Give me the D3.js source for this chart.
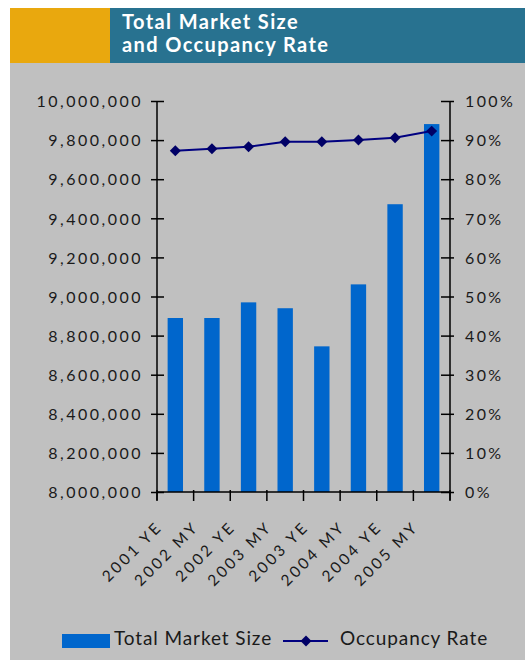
<!DOCTYPE html>
<html>
<head>
<meta charset="utf-8">
<script src="https://cdn.jsdelivr.net/npm/d3@7"></script>
<style>
  html, body { margin: 0; padding: 0; background: #ffffff; }
  svg { display: block; }
  text { font-family: Lato, "Open Sans", sans-serif; fill: #1a1a1a; }
</style>
</head>
<body>
<svg id="chart" width="525" height="660"></svg>
<script>
const categories = ["2001 YE", "2002 MY", "2002 YE", "2003 MY", "2003 YE", "2004 MY", "2004 YE", "2005 MY"];
const marketSize = [8890000, 8890000, 8970000, 8940000, 8745000, 9062000, 9472000, 9882000];
const occupancyRate = [0.873, 0.878, 0.883, 0.896, 0.896, 0.900, 0.906, 0.923];
const sizeTicks = [8000000, 8200000, 8400000, 8600000, 8800000, 9000000, 9200000, 9400000, 9600000, 9800000, 10000000];
const pctTicks = [0, 0.1, 0.2, 0.3, 0.4, 0.5, 0.6, 0.7, 0.8, 0.9, 1.0];
const titleLines = ["Total Market Size", "and Occupancy Rate"];
const legendLabels = ["Total Market Size", "Occupancy Rate"];

const svg = d3.select("#chart");

// backgrounds
svg.append("rect").attr("x", 10).attr("y", 62).attr("width", 515).attr("height", 598).attr("fill", "#c0c0c0");
svg.append("rect").attr("x", 10).attr("y", 8).attr("width", 100).attr("height", 55).attr("fill", "#e9a80e");
svg.append("rect").attr("x", 110).attr("y", 8).attr("width", 415).attr("height", 55).attr("fill", "#287290");

// title
svg.append("g").selectAll("text").data(titleLines).join("text")
  .attr("x", 122).attr("y", (d, i) => 29 + i * 23)
  .style("font-size", "20px").style("font-weight", "bold").style("letter-spacing", "1.4px")
  .style("fill", "#ffffff")
  .text(d => d);

const pLeft = 157, pRight = 450, pTop = 101, pBottom = 492;

const x = d3.scaleBand().domain(categories).range([pLeft, pRight]).paddingInner(0).paddingOuter(0);
const yL = d3.scaleLinear().domain([8000000, 10000000]).range([pBottom, pTop]);
const yR = d3.scaleLinear().domain([0, 1]).range([pBottom, pTop]);

// bars
const barW = x.bandwidth() * 0.42;
svg.append("g").selectAll("rect").data(marketSize).join("rect")
  .attr("x", (d, i) => x(categories[i]) + (x.bandwidth() - barW) / 2)
  .attr("y", d => yL(d))
  .attr("width", barW)
  .attr("height", d => yL(8000000) - yL(d))
  .attr("fill", "#0066cc");

// left axis
const axL = svg.append("g").attr("transform", `translate(${pLeft},0)`)
  .call(d3.axisLeft(yL).tickValues(sizeTicks).tickFormat(d3.format(",")).tickSize(6).tickPadding(0));
axL.select(".domain").attr("stroke", "#000").attr("stroke-width", 1.5).attr("d", `M0,${pTop}V${pBottom + 8}`);
axL.selectAll(".tick line").attr("stroke", "#000").attr("stroke-width", 1.5).attr("x1", 7).attr("x2", -6);
axL.selectAll(".tick text").attr("x", -14).attr("dy", "0.36em")
  .style("font-size", "16px").style("letter-spacing", "2.5px").style("font-family", "Lato, sans-serif").attr("fill", "#1a1a1a");

// right axis
const axR = svg.append("g").attr("transform", `translate(${pRight},0)`)
  .call(d3.axisRight(yR).tickValues(pctTicks).tickFormat(d3.format(".0%")).tickSize(6).tickPadding(0));
axR.select(".domain").attr("stroke", "#000").attr("stroke-width", 1.5).attr("d", `M0,${pTop}V${pBottom + 8}`);
axR.selectAll(".tick line").attr("stroke", "#000").attr("stroke-width", 1.5).attr("x1", -9).attr("x2", 4);
axR.selectAll(".tick text").attr("x", 15).attr("dy", "0.36em")
  .style("font-size", "16px").style("letter-spacing", "2.4px").style("font-family", "Lato, sans-serif").attr("fill", "#1a1a1a");

// x axis
const axX = svg.append("g").attr("transform", `translate(0,${pBottom})`);
axX.append("line").attr("x1", pLeft).attr("x2", pRight).attr("stroke", "#000").attr("stroke-width", 1.5);
const boundaries = categories.map(c => x(c)).concat([pRight]);
axX.selectAll("line.tk").data(boundaries).join("line").attr("class", "tk")
  .attr("x1", d => d).attr("x2", d => d).attr("y1", -2).attr("y2", 9)
  .attr("stroke", "#000").attr("stroke-width", 1.5);
axX.selectAll("text").data(categories).join("text")
  .attr("transform", d => `translate(${x(d) + x.bandwidth() / 2 - 12},${36}) rotate(-45)`)
  .attr("text-anchor", "end")
  .style("font-size", "15.5px").style("letter-spacing", "2.8px")
  .text(d => d);

// line
const cx = (d, i) => x(categories[i]) + x.bandwidth() / 2;
const line = d3.line().x(cx).y(d => yR(d));
svg.append("path").datum(occupancyRate).attr("d", line)
  .attr("fill", "none").attr("stroke", "#000080").attr("stroke-width", 2);
const diamond = d3.symbol().type(d3.symbolSquare).size(60);
svg.append("g").selectAll("path").data(occupancyRate).join("path")
  .attr("transform", (d, i) => `translate(${cx(d, i)},${yR(d)}) rotate(45)`)
  .attr("d", diamond).attr("fill", "#000066");

// legend
const lg = svg.append("g");
lg.append("rect").attr("x", 62).attr("y", 634).attr("width", 48).attr("height", 14).attr("fill", "#0066cc");
lg.append("text").attr("x", 114).attr("y", 645).style("font-size", "19px").style("letter-spacing", "0.9px").text(legendLabels[0]);
lg.append("line").attr("x1", 283).attr("x2", 328).attr("y1", 641).attr("y2", 641).attr("stroke", "#000080").attr("stroke-width", 2);
lg.append("path").attr("transform", "translate(306,641) rotate(45)").attr("d", diamond).attr("fill", "#000066");
lg.append("text").attr("x", 340).attr("y", 645).style("font-size", "19px").style("letter-spacing", "0.9px").text(legendLabels[1]);
</script>
</body>
</html>
